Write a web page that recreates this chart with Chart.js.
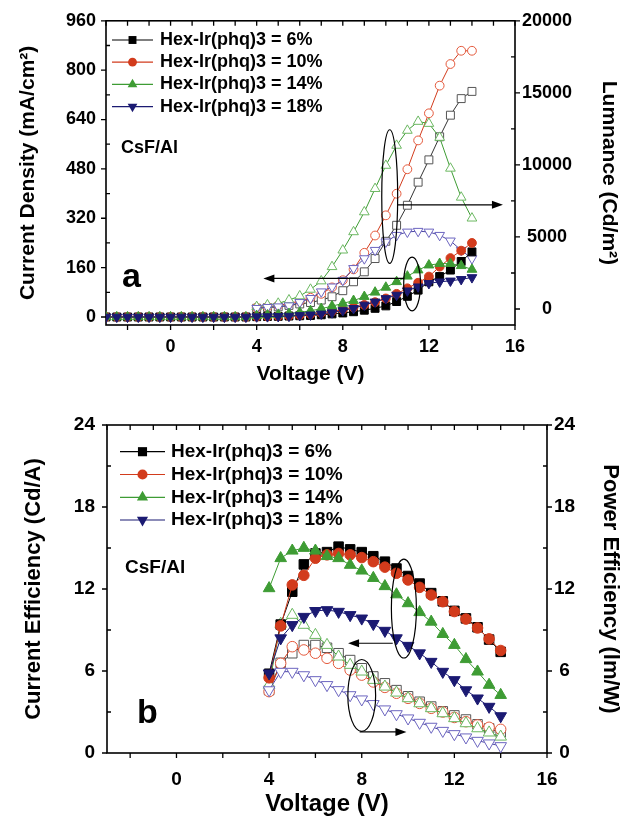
<!DOCTYPE html>
<html>
<head>
<meta charset="utf-8">
<script src="https://cdn.jsdelivr.net/npm/chart.js@4.4.1/dist/chart.umd.min.js"></script>
<style>
  html, body { margin: 0; padding: 0; background: #fff; }
  #wrap { position: relative; width: 629px; height: 819px; }
  canvas { position: absolute; left: 0; }
  #topChart { top: 0; }
  #bottomChart { top: 390px; }
</style>
</head>
<body>
<div id="wrap">
  <canvas id="topChart" width="629" height="390"></canvas>
  <canvas id="bottomChart" width="629" height="429"></canvas>
</div>
<script>
// ---- data ----
// voltage steps (V)
const voltsAll = [-3, -2.5, -2, -1.5, -1, -0.5, 0, 0.5, 1, 1.5, 2, 2.5, 3, 3.5, 4, 4.5, 5, 5.5, 6, 6.5, 7, 7.5, 8, 8.5, 9, 9.5, 10, 10.5, 11, 11.5, 12, 12.5, 13, 13.5, 14];
const voltsOn = [4, 4.5, 5, 5.5, 6, 6.5, 7, 7.5, 8, 8.5, 9, 9.5, 10, 10.5, 11, 11.5, 12, 12.5, 13, 13.5, 14];

const seriesNames = ['Hex-Ir(phq)3 = 6%', 'Hex-Ir(phq)3 = 10%', 'Hex-Ir(phq)3 = 14%', 'Hex-Ir(phq)3 = 18%'];

// (a) current density, mA/cm2 (filled symbols, left axis)
const density6  = [0, 0, 0, 0, 0, 0, 0, 0, 0, 0, 0, 0, 0, 0, 1, 1.5, 2, 3, 4, 5, 7, 10, 13, 17, 22, 28, 36, 50, 67, 87, 114, 131, 152, 180, 211];
const density10 = [0, 0, 0, 0, 0, 0, 0, 0, 0, 0, 0, 0, 0, 0, 1, 1.5, 2.5, 4, 6, 9, 13, 18, 24, 31, 39, 48, 60, 75, 93, 111, 131, 163, 191, 215, 240];
const density14 = [0, 0, 0, 0, 0, 0, 0, 0, 0, 0, 0, 0, 0, 0, 4, 6, 8, 11, 15, 20, 27, 35, 44, 53, 66, 80, 96, 114, 132, 152, 168, 173, 173, 166, 154];
const density18 = [0, 0, 0, 0, 0, 0, 0, 0, 0, 0, 0, 0, 0, 0, 1, 1.5, 2, 3, 5, 7, 10, 14, 21, 28, 39, 49, 60, 71, 85, 98, 109, 114, 117, 122, 128];

// (a) luminance, cd/m2 (open symbols, right axis)
const lum6  = [50, 100, 150, 250, 350, 450, 620, 850, 1270, 1890, 2580, 3500, 4700, 5810, 7200, 8800, 10350, 11950, 13450, 14600, 15100];
const lum10 = [100, 150, 250, 380, 550, 780, 1050, 1500, 2000, 2750, 3900, 5100, 6500, 8000, 9700, 11700, 13580, 15500, 17000, 17920, 17920];
const lum14 = [160, 280, 390, 620, 900, 1360, 1940, 2930, 4080, 5350, 6730, 8350, 9960, 11350, 12390, 13010, 12870, 11900, 9760, 7750, 6300];
const lum18 = [50, 120, 160, 230, 460, 740, 1200, 1540, 2000, 2820, 3500, 4080, 4660, 5120, 5350, 5400, 5350, 5120, 4730, 4080, 3500];

// (b) current efficiency, cd/A (filled symbols, left axis)
const ce6  = [5.8, 9.4, 11.8, 13.8, 14.6, 14.7, 15.1, 14.9, 14.7, 14.4, 14.0, 13.5, 12.95, 12.4, 11.7, 11.1, 10.4, 9.85, 9.2, 8.3, 7.4];
const ce10 = [5.5, 9.3, 12.3, 13.0, 14.25, 14.5, 14.6, 14.5, 14.3, 14.0, 13.6, 13.15, 12.66, 12.12, 11.56, 11.07, 10.35, 9.8, 9.15, 8.35, 7.5];
const ce14 = [12.05, 14.25, 14.8, 15.0, 14.8, 14.4, 14.25, 13.76, 13.34, 12.8, 12.2, 11.6, 10.95, 10.3, 9.6, 8.7, 7.9, 6.86, 5.95, 4.98, 4.24];
const ce18 = [5.83, 8.4, 9.37, 9.97, 10.4, 10.46, 10.34, 10.1, 9.85, 9.45, 8.95, 8.4, 7.85, 7.3, 6.68, 5.95, 5.34, 4.6, 4.0, 3.39, 2.7];

// (b) power efficiency, lm/W (open symbols, right axis)
const pe6  = [4.6, 6.6, 7.3, 7.9, 7.9, 7.7, 7.3, 6.8, 6.2, 5.6, 5.1, 4.6, 4.15, 3.75, 3.4, 3.05, 2.75, 2.45, 2.1, 1.8, 1.5];
const pe10 = [4.49, 6.56, 7.78, 7.54, 7.3, 6.93, 6.56, 6.07, 5.7, 5.2, 4.8, 4.37, 4.0, 3.63, 3.27, 3.0, 2.6, 2.29, 2.05, 1.88, 1.73];
const pe14 = [4.98, 9.44, 10.1, 9.37, 8.63, 7.9, 7.05, 6.44, 5.95, 5.34, 4.85, 4.41, 4.0, 3.63, 3.27, 2.9, 2.54, 2.17, 1.8, 1.49, 1.19];
const pe18 = [4.6, 5.95, 5.95, 5.7, 5.34, 4.98, 4.61, 4.24, 3.93, 3.59, 3.2, 2.85, 2.54, 2.22, 1.93, 1.63, 1.39, 1.15, 0.9, 0.71, 0.51];

// tick labels
const voltTicks = [0, 4, 8, 12, 16];
const densityTicks = [0, 160, 320, 480, 640, 800, 960];
const lumTicks = [0, 5000, 10000, 15000, 20000];
const effTicks = [0, 6, 12, 18, 24];

// ---- looks ----
const FONT = "'Liberation Sans', Arial, Helvetica, sans-serif";
Chart.defaults.font.family = FONT;
Chart.defaults.color = '#000';

const looks = [
    { shape: 'rect',     rot: 0,   r: 5.6, fill: '#000000', open: '#555555', openLine: '#333333', order: 3 },
    { shape: 'circle',   rot: 0,   r: 4.4, fill: '#d23b1c', open: '#e4593c', openLine: '#d23b1c', order: 2 },
    { shape: 'triangle', rot: 0,   r: 5.6, fill: '#3e9c34', open: '#6cb862', openLine: '#3e9c34', order: 1 },
    { shape: 'triangle', rot: 180, r: 5.6, fill: '#1b1a72', open: '#6c65c0', openLine: '#4c46a2', order: 0 }
];

function makeSet(xs, ys, k, open, axis, scale) {
    const st = looks[k];
    return {
        data: xs.map((x, i) => ({ x: x, y: ys[i] })),
        yAxisID: axis,
        borderColor: open ? st.openLine : st.fill,
        borderWidth: 1,
        tension: 0,
        pointStyle: st.shape,
        pointRotation: st.rot,
        pointRadius: st.r * scale,
        pointBackgroundColor: open ? '#ffffff' : st.fill,
        pointBorderColor: open ? st.open : st.fill,
        pointBorderWidth: 1,
        order: (open ? 4 : 0) + st.order
    };
}

function drawMarker(ctx, st, x, y, r) {
    ctx.beginPath();
    if (st.shape === 'rect') {
        const s = r * Math.SQRT1_2;
        ctx.rect(x - s, y - s, 2 * s, 2 * s);
    } else if (st.shape === 'circle') {
        ctx.arc(x, y, r, 0, Math.PI * 2);
    } else {
        const d = st.rot ? -1 : 1;
        ctx.moveTo(x, y - d * r);
        ctx.lineTo(x + r * 0.866, y + d * r * 0.5);
        ctx.lineTo(x - r * 0.866, y + d * r * 0.5);
        ctx.closePath();
    }
    ctx.fillStyle = st.fill;
    ctx.fill();
}

function arrow(ctx, x0, y0, x1, y1) {
    const dir = Math.sign(x1 - x0);
    ctx.beginPath();
    ctx.moveTo(x0, y0);
    ctx.lineTo(x1 - dir * 8, y1);
    ctx.stroke();
    ctx.beginPath();
    ctx.moveTo(x1, y1);
    ctx.lineTo(x1 - dir * 11, y1 - 4);
    ctx.lineTo(x1 - dir * 11, y1 + 4);
    ctx.closePath();
    ctx.fill();
}

// frame with inward / outward ticks like the Origin plot
const framePlugin = {
    id: 'frame',
    beforeDatasetsDraw(chart, args, o) {
        const { ctx, chartArea: a, scales } = chart;
        ctx.save();
        ctx.strokeStyle = '#000';
        ctx.lineWidth = 1.6;
        ctx.strokeRect(a.left, a.top, a.right - a.left, a.bottom - a.top);
        ctx.lineWidth = 1.3;
        ctx.beginPath();
        for (let v = Math.ceil(scales.x.min); v <= scales.x.max; v += 1) {
            const px = scales.x.getPixelForValue(v);
            ctx.moveTo(px, a.top); ctx.lineTo(px, a.top + 5);
            if (v % 2 === 0) { ctx.moveTo(px, a.bottom); ctx.lineTo(px, a.bottom + 5); }
        }
        ['y', 'y1'].forEach(id => {
            const s = scales[id];
            const edge = id === 'y' ? a.left : a.right;
            const out = id === 'y' ? -1 : 1;
            const vals = s.ticks.map(t => t.value);
            vals.forEach((v, i) => {
                const py = s.getPixelForValue(v);
                ctx.moveTo(edge, py); ctx.lineTo(edge + out * 5, py);
                if (i < vals.length - 1) {
                    const pm = s.getPixelForValue((v + vals[i + 1]) / 2);
                    ctx.moveTo(edge, pm); ctx.lineTo(edge - out * 4, pm);
                }
            });
        });
        ctx.stroke();
        ctx.restore();
    },
    afterDatasetsDraw(chart, args, o) {
        const { ctx, scales } = chart;
        ctx.save();
        ctx.strokeStyle = '#000';
        ctx.fillStyle = '#000';
        ctx.lineWidth = 1.2;
        (o.ellipses || []).forEach(e => {
            const ys = scales[e.axis];
            const cx = scales.x.getPixelForValue(e.x);
            const cy = ys.getPixelForValue(e.y);
            const rx = Math.abs(scales.x.getPixelForValue(e.x + e.rx) - cx);
            const ry = Math.abs(ys.getPixelForValue(e.y + e.ry) - cy);
            ctx.beginPath();
            ctx.ellipse(cx, cy, rx, ry, 0, 0, Math.PI * 2);
            ctx.stroke();
        });
        (o.arrows || []).forEach(r => {
            const py = scales[r.axis].getPixelForValue(r.y);
            arrow(ctx, scales.x.getPixelForValue(r.x0), py, scales.x.getPixelForValue(r.x1), py);
        });
        // in-plot legend
        const lg = o.legend;
        ctx.font = 'bold ' + lg.size + 'px ' + FONT;
        ctx.textBaseline = 'middle';
        ctx.textAlign = 'left';
        seriesNames.forEach((name, k) => {
            const st = looks[k];
            const y = lg.rows[k];
            ctx.strokeStyle = st.fill;
            ctx.lineWidth = 1.2;
            ctx.beginPath();
            ctx.moveTo(lg.x0, y); ctx.lineTo(lg.x1, y);
            ctx.stroke();
            drawMarker(ctx, st, (lg.x0 + lg.x1) / 2, y, st.r * lg.mark);
            ctx.fillStyle = '#000';
            ctx.fillText(name, lg.textX, y);
        });
        ctx.textBaseline = 'alphabetic';
        (o.tags || []).forEach(t => {
            ctx.font = 'bold ' + t.size + 'px ' + FONT;
            ctx.fillText(t.text, t.x, t.y);
        });
        ctx.restore();
    }
};

function fixedTicks(list) {
    return scale => { scale.ticks = list.map(v => ({ value: v })); };
}

function axis(opts) {
    return Object.assign({
        type: 'linear',
        grid: { display: false, drawTicks: false },
        border: { display: false }
    }, opts);
}

// ---- (a) current density / luminance ----
new Chart(document.getElementById('topChart'), {
    type: 'line',
    data: {
        datasets: [
            makeSet(voltsAll, density6, 0, false, 'y', 1),
            makeSet(voltsAll, density10, 1, false, 'y', 1),
            makeSet(voltsAll, density14, 2, false, 'y', 1),
            makeSet(voltsAll, density18, 3, false, 'y', 1),
            makeSet(voltsOn, lum6, 0, true, 'y1', 1),
            makeSet(voltsOn, lum10, 1, true, 'y1', 1),
            makeSet(voltsOn, lum14, 2, true, 'y1', 1),
            makeSet(voltsOn, lum18, 3, true, 'y1', 1)
        ]
    },
    options: {
        responsive: false,
        animation: false,
        layout: { padding: { top: 20, left: 0, right: 0, bottom: 0 } },
        plugins: {
            legend: { display: false },
            tooltip: { enabled: false },
            frame: {
                ellipses: [
                    { x: 10.18, y: 7800, axis: 'y1', rx: 0.37, ry: 4640 },
                    { x: 11.22, y: 107, axis: 'y', rx: 0.39, ry: 87 }
                ],
                arrows: [
                    { x0: 10.53, x1: 15.44, y: 7230, axis: 'y1' },
                    { x0: 10.85, x1: 4.31, y: 125, axis: 'y' }
                ],
                legend: { x0: 112, x1: 153, textX: 160, rows: [40, 62.2, 84.4, 106.6], size: 18, mark: 1 },
                tags: [
                    { text: 'CsF/Al', x: 121, y: 153, size: 18 },
                    { text: 'a', x: 122, y: 287, size: 34 }
                ]
            }
        },
        scales: {
            x: axis({
                position: 'bottom', min: -3, max: 16,
                afterBuildTicks: fixedTicks(voltTicks),
                afterFit: s => { s.height = 65; },
                ticks: { padding: 11, font: { size: 18, weight: 'bold' } },
                title: { display: true, text: 'Voltage (V)', font: { size: 21, weight: 'bold' }, padding: { top: 0, bottom: 3 } }
            }),
            y: axis({
                position: 'left', min: -26, max: 960,
                afterBuildTicks: fixedTicks(densityTicks),
                afterFit: s => { s.width = 106; },
                ticks: { padding: 10, font: { size: 18, weight: 'bold' } },
                title: { display: true, text: 'Current Density (mA/cm²)', font: { size: 21, weight: 'bold' }, padding: { top: 16, bottom: 0 } }
            }),
            y1: axis({
                position: 'right', min: -1110, max: 20000,
                afterBuildTicks: fixedTicks(lumTicks),
                afterFit: s => { s.width = 114; },
                ticks: { padding: 7, crossAlign: 'center', font: { size: 18, weight: 'bold' }, callback: v => String(v) },
                title: { display: true, text: 'Lumnance (Cd/m²)', font: { size: 21, weight: 'bold' }, padding: { top: 8, bottom: 0 } }
            })
        }
    },
    plugins: [framePlugin]
});

// ---- (b) current / power efficiency ----
new Chart(document.getElementById('bottomChart'), {
    type: 'line',
    data: {
        datasets: [
            makeSet(voltsOn, ce6, 0, false, 'y', 1.2),
            makeSet(voltsOn, ce10, 1, false, 'y', 1.2),
            makeSet(voltsOn, ce14, 2, false, 'y', 1.2),
            makeSet(voltsOn, ce18, 3, false, 'y', 1.2),
            makeSet(voltsOn, pe6, 0, true, 'y1', 1.2),
            makeSet(voltsOn, pe10, 1, true, 'y1', 1.2),
            makeSet(voltsOn, pe14, 2, true, 'y1', 1.2),
            makeSet(voltsOn, pe18, 3, true, 'y1', 1.2)
        ]
    },
    options: {
        responsive: false,
        animation: false,
        layout: { padding: { top: 35, left: 0, right: 0, bottom: 0 } },
        plugins: {
            legend: { display: false },
            tooltip: { enabled: false },
            frame: {
                ellipses: [
                    { x: 9.82, y: 10.57, axis: 'y', rx: 0.54, ry: 3.62 },
                    { x: 8.0, y: 4.21, axis: 'y1', rx: 0.6, ry: 2.63 }
                ],
                arrows: [
                    { x0: 9.34, x1: 7.41, y: 8.03, axis: 'y' },
                    { x0: 7.91, x1: 9.93, y: 1.54, axis: 'y1' }
                ],
                legend: { x0: 120, x1: 165, textX: 171, rows: [61.7, 84.5, 107.3, 130], size: 19, mark: 1.15 },
                tags: [
                    { text: 'CsF/Al', x: 125, y: 183, size: 19 },
                    { text: 'b', x: 137, y: 333, size: 34 }
                ]
            }
        },
        scales: {
            x: axis({
                position: 'bottom', min: -3, max: 16,
                afterBuildTicks: fixedTicks(voltTicks),
                afterFit: s => { s.height = 66; },
                ticks: { padding: 15, font: { size: 19, weight: 'bold' } },
                title: { display: true, text: 'Voltage (V)', font: { size: 24, weight: 'bold' }, padding: { top: 0, bottom: 0 } }
            }),
            y: axis({
                position: 'left', min: 0, max: 24,
                afterBuildTicks: fixedTicks(effTicks),
                afterFit: s => { s.width = 107; },
                ticks: { padding: 12, font: { size: 19, weight: 'bold' } },
                title: { display: true, text: 'Current Efficiency (Cd/A)', font: { size: 22, weight: 'bold' }, padding: { top: 21, bottom: 0 } }
            }),
            y1: axis({
                position: 'right', min: 0, max: 24,
                afterBuildTicks: fixedTicks(effTicks),
                afterFit: s => { s.width = 82; },
                ticks: { padding: 7, crossAlign: 'center', font: { size: 19, weight: 'bold' } },
                title: { display: true, text: 'Power Efficiency (lm/W)', font: { size: 22, weight: 'bold' }, padding: { top: 6, bottom: 0 } }
            })
        }
    },
    plugins: [framePlugin]
});
</script>
</body>
</html>
